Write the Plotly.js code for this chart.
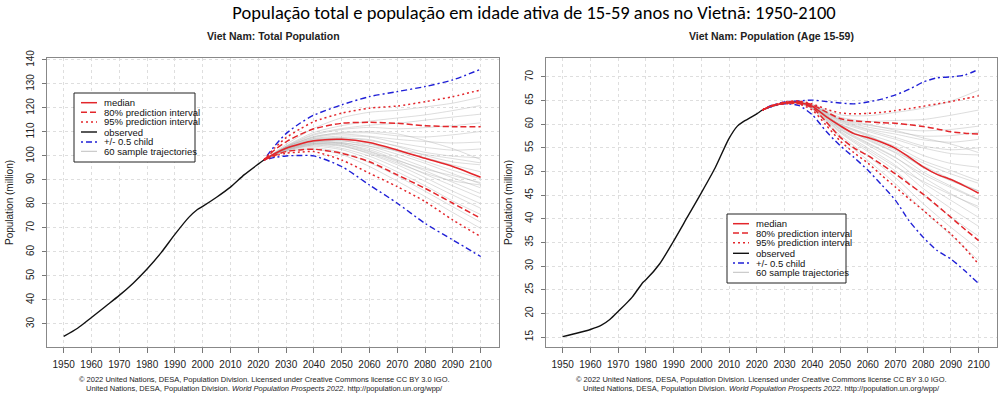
<!DOCTYPE html>
<html>
<head>
<meta charset="utf-8">
<script src="https://cdn.plot.ly/plotly-3.0.1.min.js"></script>
<style>html,body{margin:0;padding:0;background:#fff;}#chart{width:1001px;height:395px;}</style>
</head>
<body>
<div id="chart"></div>
<script>
// ---------------- DATA ----------------
const mainTitle = "População total e população em idade ativa de 15-59 anos no Vietnã: 1950-2100";
const leftTitle = "Viet Nam: Total Population";
const rightTitle = "Viet Nam: Population (Age 15-59)";
const yTitle = "Population (million)";
const footLine1 = "© 2022 United Nations, DESA, Population Division. Licensed under Creative Commons license CC BY 3.0 IGO.";
const footLine2 = "United Nations, DESA, Population Division. <i>World Population Prospects 2022</i>. http://population.un.org/wpp/";
const legendLabels = ["median", "80% prediction interval", "95% prediction interval", "observed", "+/- 0.5 child", "60 sample trajectories"];

const xTicks = [1950,1960,1970,1980,1990,2000,2010,2020,2030,2040,2050,2060,2070,2080,2090,2100];
const leftYTicks = [30,40,50,60,70,80,90,100,110,120,130,140];
const rightYTicks = [15,20,25,30,35,40,45,50,55,60,65,70];

// Left: total population
const leftObsYears = [1950,1955,1960,1965,1970,1975,1980,1985,1990,1995,1998,2000,2005,2010,2015,2020,2022];
const leftObs      = [24.8,28.2,32.7,37.3,41.9,47.0,52.9,59.6,67.3,74.4,77.6,79.0,82.8,87.0,92.2,96.6,98.3];
const leftProjYears = [2022,2026,2030,2035,2040,2050,2060,2070,2080,2090,2100];
const leftMedian  = [98.3,101.0,103.2,105.0,106.3,106.9,105.6,102.5,99.0,95.6,91.1];
const leftPI80Up  = [98.3,102.6,105.9,108.9,111.3,113.6,114.0,113.6,112.6,112.2,112.2];
const leftPI80Lo  = [98.3,100.3,101.8,102.5,102.8,101.1,97.6,92.1,86.5,80.3,74.0];
const leftPI95Up  = [98.3,103.4,107.6,111.2,114.3,117.8,119.9,120.8,122.6,124.7,127.5];
const leftPI95Lo  = [98.3,100.0,101.1,101.6,101.8,98.3,92.8,87.2,81.0,73.3,66.4];
const leftChildUp = [98.3,104.3,109.3,113.6,117.0,121.3,124.7,126.8,128.9,131.7,136.1];
const leftChildLo = [98.3,99.4,100.0,100.2,100.0,95.6,87.9,80.3,71.9,65.0,58.1];
const leftSampleYears = [2022,2030,2040,2050,2060,2070,2080,2090,2100];
const leftSamples = [
  [98.3,104.8,111.5,115.9,118.2,119.0,120.4,122.0,124.5],
  [98.3,104.2,109.8,112.6,114.5,115.8,117.1,118.9,121.0],
  [98.3,103.9,108.7,111.0,111.9,111.3,111.8,112.6,113.8],
  [98.3,103.6,108.1,109.5,109.6,108.4,107.9,108.8,110.2],
  [98.3,103.8,107.6,109.1,108.2,106.9,106.0,105.4,105.8],
  [98.3,103.4,107.2,108.3,107.9,105.5,103.6,102.4,102.9],
  [98.3,103.5,107.0,107.6,106.4,104.2,101.5,99.9,99.2],
  [98.3,103.2,106.5,107.5,106.8,103.9,100.2,97.5,96.3],
  [98.3,103.1,106.6,107.2,105.3,102.1,99.3,96.2,93.4],
  [98.3,103.3,106.1,106.2,104.9,101.8,97.8,94.0,90.5],
  [98.3,103.0,105.9,106.4,104.1,100.7,96.9,92.6,88.4],
  [98.3,102.9,105.7,105.6,103.3,99.5,95.2,90.9,86.7],
  [98.3,102.8,105.4,105.0,102.6,98.4,93.8,89.0,84.3],
  [98.3,103.0,105.2,104.5,101.7,97.6,92.4,87.5,82.6],
  [98.3,102.6,104.9,104.3,100.8,96.3,91.0,85.3,80.1],
  [98.3,102.5,104.5,103.2,99.9,95.0,89.4,83.7,78.2],
  [98.3,102.4,104.0,102.6,98.7,93.4,87.6,81.2,75.6],
  [98.3,102.1,103.4,101.5,97.2,91.6,85.3,78.8,72.4],
  [98.3,101.8,102.8,100.6,95.6,89.5,83.1,76.4,69.8],
  [98.3,102.2,104.6,104.0,101.2,97.0,92.8,89.6,87.9],
  [98.3,103.7,107.9,109.8,110.1,109.2,106.4,103.0,98.5],
  [98.3,104.0,109.1,111.4,112.8,113.6,114.9,116.2,117.4],
  [98.3,102.7,105.1,105.4,104.0,102.3,100.6,98.9,97.1],
  [98.3,103.2,106.0,105.2,102.0,98.1,94.5,91.8,88.9]
];

// Right: population aged 15-59
const rightObsYears = [1950,1955,1960,1964,1967,1970,1975,1979,1980,1985,1990,1995,2000,2005,2010,2013,2015,2018,2020,2022];
const rightObs      = [15.1,15.8,16.6,17.5,18.7,20.4,23.4,26.6,27.1,30.5,35.3,40.4,45.5,50.8,57.0,59.6,60.5,61.5,62.2,63.0];
const rightProjYears = [2022,2025,2030,2035,2040,2045,2050,2055,2060,2065,2070,2075,2080,2085,2090,2095,2100];
const rightMedian  = [63.0,63.8,64.5,64.6,63.8,61.6,59.7,58.0,57.2,56.2,54.9,53.0,51.0,49.4,48.3,46.9,45.4];
const rightPI80Up  = [63.0,63.8,64.6,64.8,64.1,62.6,61.2,60.7,60.5,60.3,60.2,59.9,59.5,59.0,58.4,58.1,57.9];
const rightPI80Lo  = [63.0,63.8,64.4,64.4,63.5,60.5,57.3,55.0,53.4,51.5,49.5,47.3,45.2,42.8,40.3,37.8,35.4];
const rightPI95Up  = [63.0,63.8,64.7,64.9,64.3,63.2,62.4,62.2,62.3,62.5,62.9,63.3,63.8,64.3,64.8,65.4,66.0];
const rightPI95Lo  = [63.0,63.8,64.3,64.3,63.0,59.8,56.5,54.0,51.8,49.2,46.7,44.2,41.8,39.3,36.8,33.8,30.4];
const rightChildUp = [63.0,63.9,64.7,64.9,65.1,64.8,64.5,64.3,64.7,65.3,66.2,67.4,68.9,69.8,70.0,70.4,71.6];
const rightChildLo = [63.0,63.7,64.3,64.0,62.0,58.5,55.5,53.0,50.3,47.2,43.9,39.5,36.1,33.3,31.5,29.0,26.3];
const rightSampleYears = [2022,2030,2035,2040,2050,2060,2070,2080,2090,2100];
const rightSamples = [
  [63.0,64.5,64.7,64.2,62.0,61.8,62.5,63.4,64.9,67.2],
  [63.0,64.5,64.7,64.1,61.5,60.6,60.8,61.0,61.9,63.0],
  [63.0,64.5,64.6,64.0,61.0,59.8,59.0,58.6,58.9,59.6],
  [63.0,64.5,64.6,63.9,60.8,59.0,57.9,56.7,56.2,56.8],
  [63.0,64.5,64.6,63.9,60.4,58.5,56.8,55.0,53.8,53.5],
  [63.0,64.5,64.6,63.8,60.1,57.9,56.0,53.4,51.7,50.9],
  [63.0,64.5,64.6,63.8,59.9,57.5,55.3,52.3,50.2,48.0],
  [63.0,64.5,64.6,63.8,59.6,57.0,54.5,50.8,48.0,45.9],
  [63.0,64.5,64.6,63.7,59.4,56.6,53.9,49.9,46.9,44.1],
  [63.0,64.5,64.5,63.7,59.2,56.1,53.0,48.8,45.3,42.2],
  [63.0,64.5,64.5,63.6,58.9,55.6,52.2,47.6,43.9,40.3],
  [63.0,64.5,64.5,63.5,58.6,55.0,51.3,46.4,42.2,38.4],
  [63.0,64.5,64.5,63.4,58.2,54.2,50.1,45.0,40.4,36.3],
  [63.0,64.5,64.5,63.3,57.7,53.3,48.7,43.2,38.2,33.6],
  [63.0,64.5,64.4,63.2,57.2,52.4,47.4,41.8,36.5,31.2],
  [63.0,64.5,64.6,63.9,60.6,58.8,57.2,55.4,54.6,55.0],
  [63.0,64.5,64.6,63.8,60.0,57.7,54.8,51.8,49.5,47.5],
  [63.0,64.5,64.5,63.6,59.0,55.9,52.9,49.4,46.6,44.0],
  [63.0,64.5,64.6,64.0,60.9,59.4,58.4,57.5,57.6,58.3],
  [63.0,64.5,64.5,63.5,58.4,54.6,51.0,47.9,45.1,42.6],
  [63.0,64.5,64.5,63.7,59.5,56.8,54.1,51.2,48.4,45.9],
  [63.0,64.5,64.6,64.0,61.2,60.0,58.7,57.1,55.8,54.0]
];

// ---------------- STYLE ----------------
const W = 1001, H = 395;
const RED = '#e3262b', BLUE = '#1f1fd6', BLACK = '#111', GREY = 'rgba(175,175,175,0.42)';
const DASH = '6px,3px', DOT = '2px,3px', DASHDOT = '2px,3px,6px,3px';
const FONT = 'Liberation Sans, Arial, Helvetica, sans-serif';
const px = v => v / W;
const py = v => 1 - v / H;

const styles = [
  {color: RED, dash: 'solid', width: 1.5},
  {color: RED, dash: DASH, width: 1.5},
  {color: RED, dash: DOT, width: 1.5},
  {color: BLACK, dash: 'solid', width: 1.4},
  {color: BLUE, dash: DASHDOT, width: 1.4},
  {color: 'rgba(175,175,175,0.8)', dash: 'solid', width: 1}
];

function line(x, y, xa, ya, st, name) {
  return {type: 'scatter', mode: 'lines', x: x, y: y, xaxis: xa, yaxis: ya, name: name,
    showlegend: false, hoverinfo: 'skip',
    line: {color: st.color, dash: st.dash, width: st.width, shape: 'spline', smoothing: 0.7}};
}

const traces = [];
function panel(xa, ya, obsX, obsY, projX, med, p80u, p80l, p95u, p95l, cu, cl, sampX, samples) {
  samples.forEach(s => traces.push(line(sampX, s, xa, ya, {color: GREY, dash: 'solid', width: 1}, legendLabels[5])));
  traces.push(line(obsX, obsY, xa, ya, styles[3], legendLabels[3]));
  traces.push(line(projX, cu, xa, ya, styles[4], legendLabels[4]));
  traces.push(line(projX, cl, xa, ya, styles[4], legendLabels[4]));
  traces.push(line(projX, p95u, xa, ya, styles[2], legendLabels[2]));
  traces.push(line(projX, p95l, xa, ya, styles[2], legendLabels[2]));
  traces.push(line(projX, p80u, xa, ya, styles[1], legendLabels[1]));
  traces.push(line(projX, p80l, xa, ya, styles[1], legendLabels[1]));
  traces.push(line(projX, med, xa, ya, styles[0], legendLabels[0]));
}
panel('x', 'y', leftObsYears, leftObs, leftProjYears, leftMedian, leftPI80Up, leftPI80Lo,
      leftPI95Up, leftPI95Lo, leftChildUp, leftChildLo, leftSampleYears, leftSamples);
panel('x2', 'y2', rightObsYears, rightObs, rightProjYears, rightMedian, rightPI80Up, rightPI80Lo,
      rightPI95Up, rightPI95Lo, rightChildUp, rightChildLo, rightSampleYears, rightSamples);

function xAxis(domain) {
  return {domain: domain, range: [1944, 2106.6], tickvals: xTicks, ticks: 'outside', ticklen: 5,
    tickcolor: '#777', tickwidth: 1, ticklabelstandoff: 3,
    showline: true, linecolor: '#888', linewidth: 1, mirror: true,
    showgrid: true, gridcolor: '#dedede', griddash: 'dot', gridwidth: 1, zeroline: false,
    tickfont: {family: FONT, size: 10, color: '#222'}};
}
function yAxis(domain, range, ticks, anchor) {
  return {domain: domain, range: range, tickvals: ticks, ticks: 'outside', ticklen: 4, anchor: anchor,
    tickcolor: '#777', tickwidth: 1, tickangle: -90, ticklabelstandoff: 4,
    showline: true, linecolor: '#888', linewidth: 1, mirror: true,
    showgrid: true, gridcolor: '#dedede', griddash: 'dot', gridwidth: 1, zeroline: false,
    tickfont: {family: FONT, size: 10, color: '#222'},
    title: {text: yTitle, font: {family: FONT, size: 10, color: '#222'}, standoff: 9}};
}

const yDom = [py(347), py(58)];
const layout = {
  width: W, height: H, margin: {l: 0, r: 0, t: 0, b: 0}, paper_bgcolor: '#fff', plot_bgcolor: '#fff',
  showlegend: false,
  title: {text: mainTitle, x: px(534), xanchor: 'center', y: py(13), yanchor: 'middle',
          font: {family: 'Carlito, Lato, sans-serif', size: 18.5, color: '#000'}},
  xaxis: xAxis([px(47), px(499)]),
  yaxis: yAxis(yDom, [20.4, 140.8], leftYTicks, 'x'),
  xaxis2: Object.assign(xAxis([px(546), px(997)]), {anchor: 'y2'}),
  yaxis2: yAxis(yDom, [12.9, 74.0], rightYTicks, 'x2'),
  shapes: [], annotations: []
};

// subplot titles and credits
[[273, leftTitle, 264], [771, rightTitle, 761]].forEach(([cx, t, fx]) => {
  layout.annotations.push({xref: 'paper', yref: 'paper', x: px(cx), y: py(36), text: '<b>' + t + '</b>',
    showarrow: false, xanchor: 'center', yanchor: 'middle', font: {family: FONT, size: 10.5, color: '#222'}});
  layout.annotations.push({xref: 'paper', yref: 'paper', x: px(fx), y: py(379), text: footLine1,
    showarrow: false, xanchor: 'center', yanchor: 'middle', font: {family: FONT, size: 7.5, color: '#222'}});
  layout.annotations.push({xref: 'paper', yref: 'paper', x: px(fx), y: py(388), text: footLine2,
    showarrow: false, xanchor: 'center', yanchor: 'middle', font: {family: FONT, size: 7.5, color: '#222'}});
});

// legend boxes (drawn like the R legend)
function legendBox(x0, y0, x1, y1, symX0, symX1, textX, rows) {
  layout.shapes.push({type: 'rect', xref: 'paper', yref: 'paper', x0: px(x0), x1: px(x1), y0: py(y0), y1: py(y1),
    line: {color: '#222', width: 1}, fillcolor: '#fff', layer: 'above'});
  legendLabels.forEach((lab, i) => {
    const st = styles[i];
    layout.shapes.push({type: 'line', xref: 'paper', yref: 'paper', x0: px(symX0), x1: px(symX1),
      y0: py(rows[i]), y1: py(rows[i]), line: {color: st.color, dash: st.dash, width: st.width}, layer: 'above'});
    layout.annotations.push({xref: 'paper', yref: 'paper', x: px(textX), y: py(rows[i]), text: lab,
      showarrow: false, xanchor: 'left', yanchor: 'middle', borderpad: 0,
      font: {family: FONT, size: 9.5, color: '#111'}});
  });
}
legendBox(74, 93, 195, 162, 81, 97, 103, [102.7, 112.3, 122, 132, 142, 151.3]);
legendBox(727, 214, 846, 283, 733, 749, 755, [223.7, 233, 242.7, 253.3, 263, 272.3]);

Plotly.newPlot('chart', traces, layout, {displayModeBar: false, staticPlot: true});
</script>
</body>
</html>
